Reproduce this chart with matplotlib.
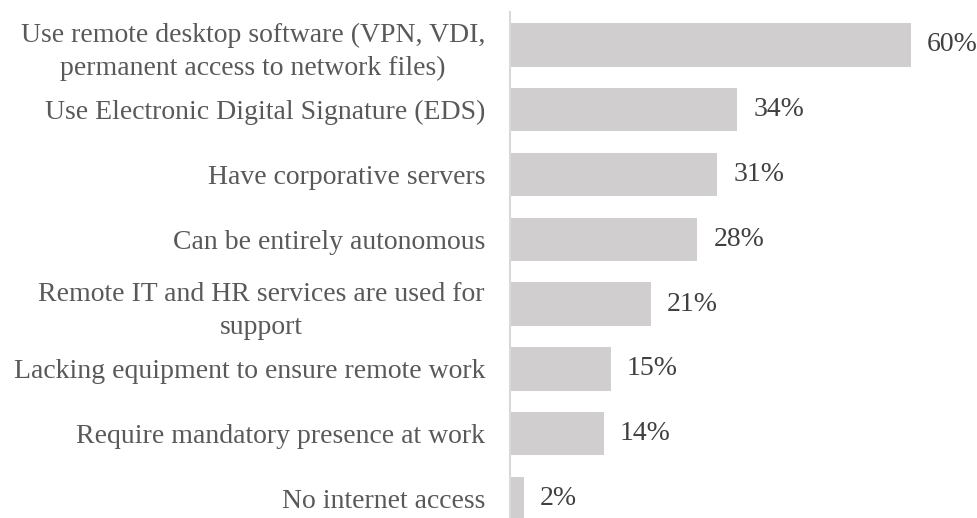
import matplotlib
matplotlib.use("Agg")
import matplotlib.pyplot as plt
import matplotlib.transforms as mtransforms

categories = [
    "Use remote desktop software (VPN, VDI,\npermanent access to network files)",
    "Use Electronic Digital Signature (EDS)",
    "Have corporative servers",
    "Can be entirely autonomous",
    "Remote IT and HR services are used for\nsupport",
    "Lacking equipment to ensure remote work",
    "Require mandatory presence at work",
    "No internet access",
]
values = [60, 34, 31, 28, 21, 15, 14, 2]
value_labels = ["60%", "34%", "31%", "28%", "21%", "15%", "14%", "2%"]

W, H = 978, 518
fig = plt.figure(figsize=(W / 100, H / 100), dpi=100)
left_px, top_px = 510.5, 12.5
ax = fig.add_axes([left_px / W, 0, 1 - left_px / W, (H - top_px) / H])

font = ["Liberation Serif", "DejaVu Serif"]
fs = 20
bar_color = "#d0cece"

ypos = list(range(len(categories)))
ax.barh(ypos, values, height=0.67, color=bar_color, edgecolor="none")

ax.set_xlim(0, (W - left_px) / 6.67)
ax.set_ylim(7.3, -0.5)

ax.set_yticks(ypos)
ax.set_yticklabels(categories, fontsize=fs, family=font, color="#595959",
                   linespacing=1.4)
ax.tick_params(axis="y", length=0, pad=0)
ax.set_xticks([])

for y, v, t in zip(ypos, values, value_labels):
    ax.annotate(t, (v, y), xytext=(16, 0), textcoords="offset pixels",
                ha="left", va="center", fontsize=fs, family=font,
                color="#404040")

for s in ["top", "right", "bottom"]:
    ax.spines[s].set_visible(False)
ax.spines["left"].set_color("#d9d9d9")
ax.spines["left"].set_linewidth(1.5)

# right-align category labels at a fixed pixel edge, centring wrapped lines
fig.canvas.draw()
right_edge = 485
for lbl in ax.get_yticklabels():
    lbl.set_horizontalalignment("right")
    lbl.set_multialignment("center")
    lbl.set_transform(mtransforms.blended_transform_factory(
        mtransforms.IdentityTransform(), ax.transData))
    lbl.set_x(right_edge)

fig.savefig("out.png", dpi=100)
